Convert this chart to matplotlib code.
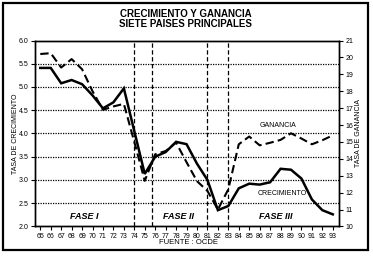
import matplotlib
matplotlib.use('Agg')
import matplotlib.pyplot as plt
from matplotlib.patches import Rectangle

plt.rcParams['font.family'] = ['Liberation Sans Narrow', 'Liberation Sans', 'DejaVu Sans']

# --- data ---
years = list(range(65, 94))
crecimiento = [5.41, 5.41, 5.08, 5.15, 5.06, 4.82, 4.54, 4.67, 4.97, 4.05, 3.13,
               3.50, 3.60, 3.82, 3.77, 3.35, 3.00, 2.35, 2.44, 2.82, 2.92, 2.90,
               2.95, 3.24, 3.22, 3.03, 2.58, 2.35, 2.26]
ganancia = [20.2, 20.25, 19.4, 19.9, 19.3, 18.0, 16.9, 17.1, 17.25, 15.0, 12.7,
            14.27, 14.46, 14.96, 13.8, 12.68, 12.1, 11.0, 12.2, 14.86, 15.32, 14.8,
            14.95, 15.12, 15.51, 15.2, 14.86, 15.1, 15.39]
left_ticks = [2.0, 2.5, 3.0, 3.5, 4.0, 4.5, 5.0, 5.5, 6.0]
right_ticks = list(range(10, 22))
phase_lines = [74, 75.7, 81, 83]
phases = [("FASE I", 69.2), ("FASE II", 78.2), ("FASE III", 87.5)]

fig = plt.figure(figsize=(3.73, 2.63), dpi=100)
ax = fig.add_axes([0.094, 0.139, 0.815, 0.707])
ax2 = ax.twinx()

ax.plot(years, crecimiento, color='black', lw=1.8, solid_joinstyle='miter')
ax2.plot(years, ganancia, color='black', lw=1.5, dashes=(4, 2))

ax.set_xlim(64.5, 93.6)
ax.set_ylim(2.0, 6.0)
ax2.set_ylim(10, 21)

ax.set_xticks(years)
ax.set_xticklabels([str(y) for y in years], fontsize=5)
ax.set_yticks(left_ticks)
ax.set_yticklabels([f"{v:.1f}" for v in left_ticks], fontsize=5)
ax2.set_yticks(right_ticks)
ax2.set_yticklabels([str(v) for v in right_ticks], fontsize=5)
for a in (ax, ax2):
    a.tick_params(length=3, width=0.8, pad=1.5, color='black')
    for s in a.spines.values():
        s.set_linewidth(1.0)

for v in left_ticks[1:-1]:
    ax.axhline(v, color='black', lw=0.9, linestyle=(0, (1, 1)), zorder=0)
for x in phase_lines:
    ax.axvline(x, color='black', lw=0.9, dashes=(3.5, 2), zorder=0)

ax.set_ylabel("TASA DE CRECIMIENTO", fontsize=5, labelpad=0)
ax2.set_ylabel("TASA DE GANANCIA", fontsize=5, labelpad=1)

for name, xc in phases:
    ax.text(xc, 2.12, name, fontsize=6.5, fontweight='bold', fontstyle='italic',
            ha='center', va='bottom')
ax2.text(87.8, 15.75, "GANANCIA", fontsize=5, ha='center', va='bottom')
ax.text(88.2, 2.7, "CRECIMIENTO", fontsize=5, ha='center', va='center')

fig.text(0.505, 0.078, "FUENTE : OCDE", fontsize=5.5, ha='center', va='center')
fig.text(0.497, 0.945, "CRECIMIENTO Y GANANCIA", fontsize=7, fontweight='bold',
         ha='center', va='center')
fig.text(0.497, 0.908, "SIETE PAISES PRINCIPALES", fontsize=7, fontweight='bold',
         ha='center', va='center')

fig.add_artist(Rectangle((0.008, 0.05), 0.979, 0.94, transform=fig.transFigure,
                         fill=False, edgecolor='black', lw=1.6))

fig.savefig("out.png", dpi=100)
